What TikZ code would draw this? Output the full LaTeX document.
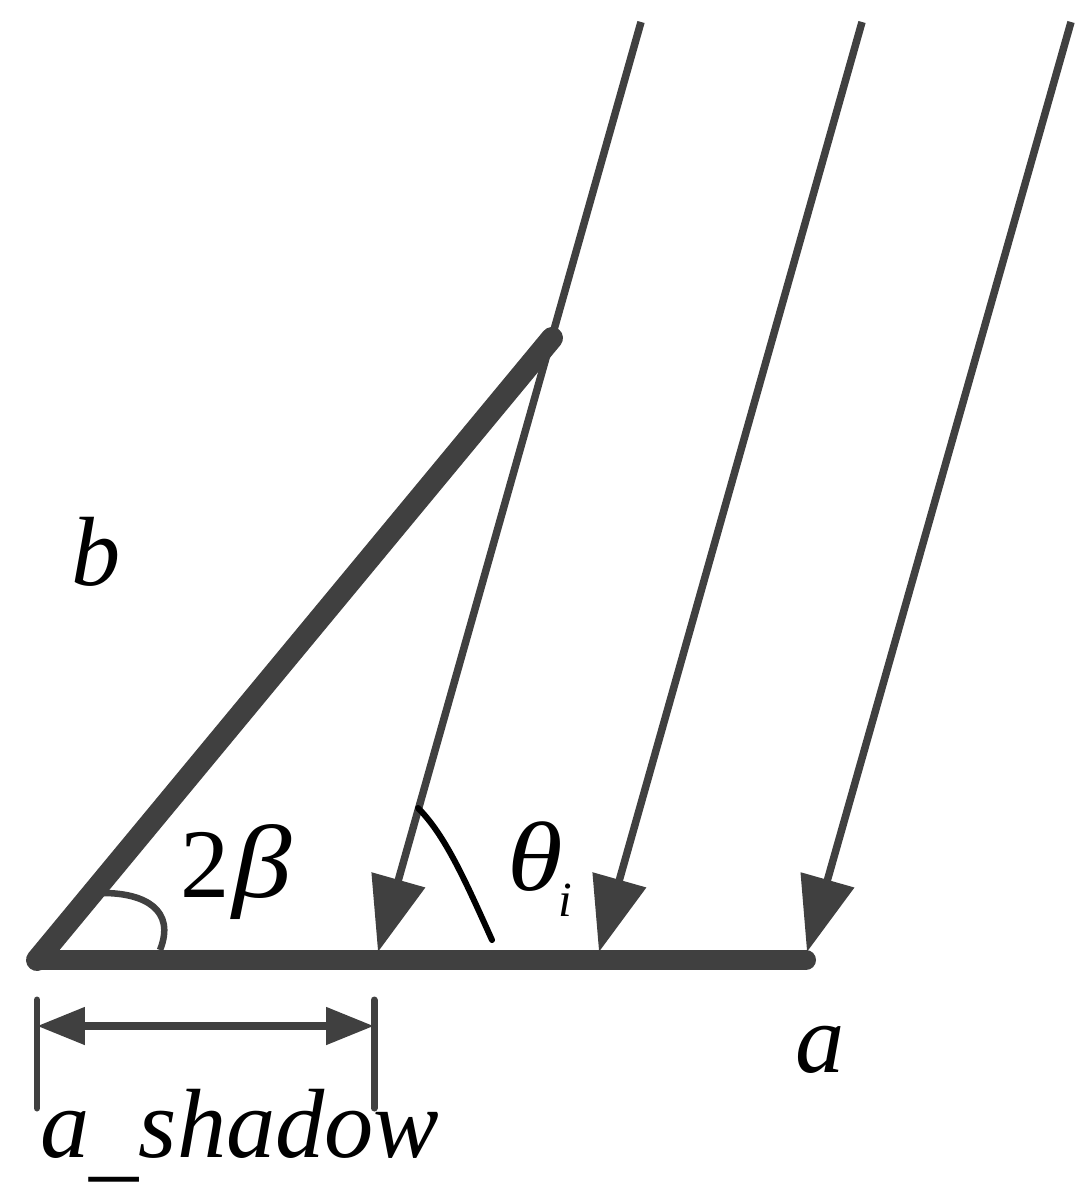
\documentclass[tikz,border=0pt]{standalone}
\usepackage{fontspec}
\setmainfont{Liberation Serif}
\usetikzlibrary{arrows.meta}
\definecolor{darkgray}{RGB}{64,64,64}
\tikzset{>=stealth,
	beama/.style = {draw=darkgray, line width=0.4cm, line cap=round},
	beamb/.style = {draw=darkgray, line width=0.44cm, line cap=round},
	ray/.style = {draw=darkgray, line width=0.15cm, -{Triangle[length=1.5cm, width=1.08cm]}},
	tick/.style = {draw=darkgray, line width=0.14cm, line cap=round},
	span/.style = {draw=darkgray, line width=0.16cm, {Triangle[length=0.96cm, width=0.72cm]}-{Triangle[length=0.96cm, width=0.72cm]}},
	lab/.style = {inner sep=0pt, anchor=base west, font=\fontsize{56}{56}\selectfont\itshape},
	sublab/.style = {inner sep=0pt, anchor=base west, font=\fontsize{28}{28}\selectfont\itshape}
}
\begin{document}
\begin{tikzpicture}[x=0.02cm, y=-0.02cm]
	\useasboundingbox (0,0) rectangle (1091,1196);
	\coordinate (corner) at (37,960);
	\coordinate (aend) at (806,960);
	\coordinate (bend) at (552,338);
	% incoming rays
	\foreach \name/\xs/\xe in {one/641/378, two/862/599, three/1071/807} {
		\coordinate (s\name) at (\xs,22);
		\coordinate (e\name) at (\xe,952);
		\draw [ray] (s\name) -- (e\name);
	}
	\draw [beama] (corner) -- (aend);
	\draw [beamb] (corner) -- (bend);
	% angle marks
	\coordinate (betaa) at (103,893);
	\coordinate (betab) at (160,950);
	\draw [draw=darkgray, line width=0.13cm] (betaa) .. controls (145,893) and (176,910) .. (betab);
	\coordinate (thetaa) at (418,808);
	\coordinate (thetab) at (492,940);
	\draw [line width=0.12cm, line cap=round] (thetaa) .. controls (445,835) and (465,880) .. (thetab);
	% shadow width
	\coordinate (la) at (37,1000);
	\coordinate (lb) at (37,1108);
	\coordinate (ra) at (374,1000);
	\coordinate (rb) at (374,1108);
	\coordinate (sl) at (37,1026);
	\coordinate (sr) at (374,1026);
	\draw [tick] (la) -- (lb);
	\draw [tick] (ra) -- (rb);
	\draw [span] (sl) -- (sr);
	\node (labb) at (71,585) [lab] {b};
	\node (laba) at (795,1072) [lab] {a};
	\node (labtwo) at (180,897) [lab] {\upshape 2};
	\node (labbeta) at (232,897) [lab, font=\fontsize{59}{59}\selectfont\itshape, xscale=1.15] {β};
	\node (labtheta) at (507,890) [lab, xscale=1.15] {θ};
	\node (labi) at (558,916) [sublab] {i};
	\node (labshadow) at (40,1157) [lab] {a\raisebox{-7pt}{\_}shadow};
\end{tikzpicture}
\end{document}
